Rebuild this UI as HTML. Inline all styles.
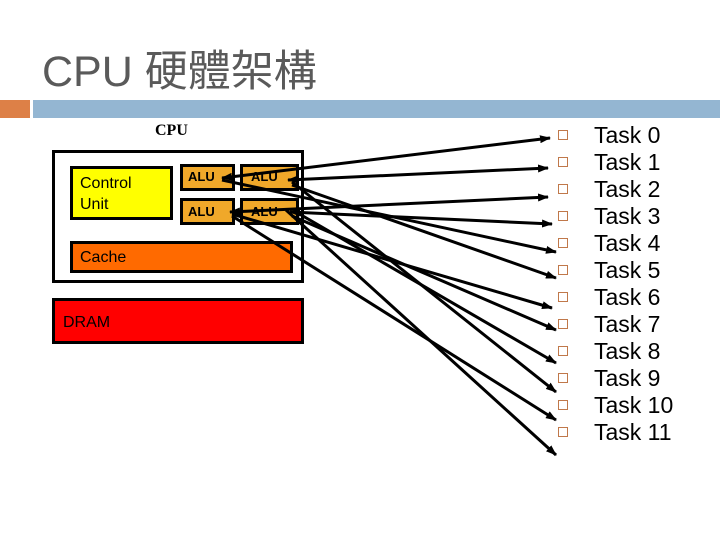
<!DOCTYPE html>
<html><head><meta charset="utf-8"><style>
body{margin:0;width:720px;height:540px;background:#fff;position:relative;overflow:hidden;font-family:"Liberation Sans","Noto Sans CJK TC",sans-serif}
.a{position:absolute;box-sizing:border-box}
.t{position:absolute;left:594px;font-size:23px;color:#000;line-height:27px}
.b{position:absolute;left:558px;width:10px;height:10px;border:1.5px solid #c0784a;box-sizing:border-box}
</style></head><body>
<div class="a" style="left:42px;top:47px;font-size:43px;line-height:50px;color:#5a5a5a;font-family:'Liberation Sans','Noto Sans CJK TC',sans-serif;white-space:nowrap">CPU 硬體架構</div>
<div class="a" style="left:0;top:100px;width:30px;height:18px;background:#dd8047"></div>
<div class="a" style="left:33px;top:100px;width:687px;height:18px;background:#94b6d2"></div>
<div class="a" style="left:155px;top:122px;font-family:'Liberation Serif',serif;font-weight:bold;font-size:16px">CPU</div>
<div class="a" style="left:52px;top:150px;width:252px;height:133px;border:3px solid #000"></div>
<div class="a" style="left:70px;top:166px;width:103px;height:54px;border:3px solid #000;background:#ffff00;font-size:16px;padding:4px 0 0 7px;line-height:21px">Control<br>Unit</div>
<div class="a" style="left:180px;top:164px;width:55px;height:27px;border:3px solid #000;background:#f0a82a;font-size:13px;font-weight:bold;padding:2px 0 0 5px">ALU</div>
<div class="a" style="left:240px;top:164px;width:59px;height:27px;border:3px solid #000;background:#f0a82a;font-size:13px;font-weight:bold;padding:2px 0 0 8px">ALU</div>
<div class="a" style="left:180px;top:198px;width:55px;height:27px;border:3px solid #000;background:#f0a82a;font-size:13px;font-weight:bold;padding:3px 0 0 5px">ALU</div>
<div class="a" style="left:240px;top:198px;width:59px;height:27px;border:3px solid #000;background:#f0a82a;font-size:13px;font-weight:bold;padding:3px 0 0 8px">ALU</div>
<div class="a" style="left:70px;top:241px;width:223px;height:32px;border:3px solid #000;background:#ff6a00;font-size:16px;padding:5px 0 0 7px">Cache</div>
<div class="a" style="left:52px;top:298px;width:252px;height:46px;border:3px solid #000;background:#ff0000;font-size:16px;padding:13px 0 0 8px">DRAM</div>
<svg class="a" style="left:0;top:0" width="720" height="540">
<defs><marker id="m" markerWidth="11" markerHeight="8" refX="10" refY="4" orient="auto-start-reverse" markerUnits="userSpaceOnUse"><path d="M0,0L11,4L0,8z" fill="#000"/></marker></defs>
<g stroke="#000" stroke-width="3" fill="none">
<line x1="222" y1="178" x2="550" y2="138" marker-start="url(#m)" marker-end="url(#m)"/>
<line x1="288" y1="180" x2="548" y2="168" marker-start="url(#m)" marker-end="url(#m)"/>
<line x1="230" y1="212" x2="548" y2="197" marker-start="url(#m)" marker-end="url(#m)"/>
<line x1="290" y1="212" x2="552" y2="224" marker-start="url(#m)" marker-end="url(#m)"/>
<line x1="222" y1="180" x2="556" y2="252" marker-end="url(#m)"/>
<line x1="292" y1="185" x2="556" y2="278" marker-end="url(#m)"/>
<line x1="232" y1="214" x2="552" y2="308" marker-end="url(#m)"/>
<line x1="292" y1="216" x2="556" y2="330" marker-end="url(#m)"/>
<line x1="292" y1="182" x2="556" y2="392" marker-end="url(#m)"/>
<line x1="232" y1="216" x2="556" y2="420" marker-end="url(#m)"/>
<line x1="296" y1="212" x2="556" y2="363" marker-end="url(#m)"/>
<line x1="286" y1="210" x2="556" y2="455" marker-end="url(#m)"/>
</g></svg>
<div class="b" style="top:130px"></div><div class="t" style="top:122px">Task 0</div>
<div class="b" style="top:157px"></div><div class="t" style="top:149px">Task 1</div>
<div class="b" style="top:184px"></div><div class="t" style="top:176px">Task 2</div>
<div class="b" style="top:211px"></div><div class="t" style="top:203px">Task 3</div>
<div class="b" style="top:238px"></div><div class="t" style="top:230px">Task 4</div>
<div class="b" style="top:265px"></div><div class="t" style="top:257px">Task 5</div>
<div class="b" style="top:292px"></div><div class="t" style="top:284px">Task 6</div>
<div class="b" style="top:319px"></div><div class="t" style="top:311px">Task 7</div>
<div class="b" style="top:346px"></div><div class="t" style="top:338px">Task 8</div>
<div class="b" style="top:373px"></div><div class="t" style="top:365px">Task 9</div>
<div class="b" style="top:400px"></div><div class="t" style="top:392px">Task 10</div>
<div class="b" style="top:427px"></div><div class="t" style="top:419px">Task 11</div>
</body></html>
